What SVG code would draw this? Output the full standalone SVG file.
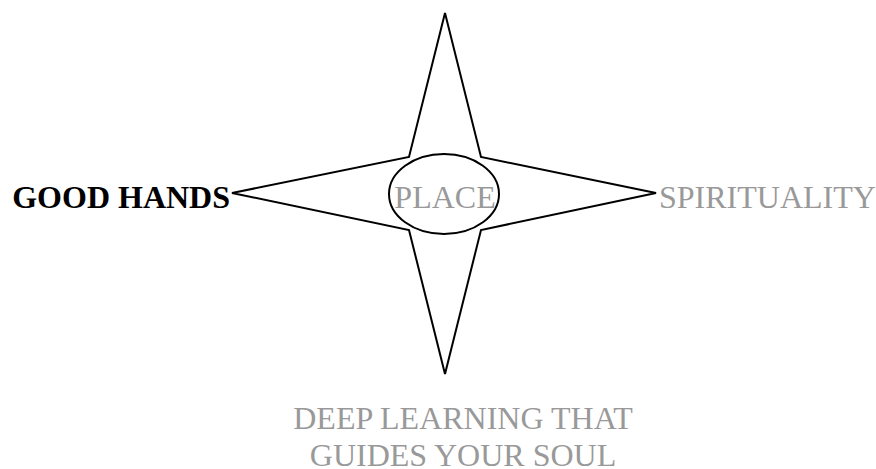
<svg xmlns="http://www.w3.org/2000/svg" width="876" height="469" viewBox="0 0 876 469">
<style>
.ln{fill:#fff;stroke:#000;stroke-width:2}
.t{font-family:"Liberation Serif","Times New Roman",serif;font-size:32px}
.g{fill:#999}
.b{fill:#000;font-weight:bold}
</style>
<rect width="876" height="469" fill="#fff"/>
<g id="connectors">
<polygon class="ln" points="445,13 481,157 656,193 481,230 445,374 409,230 232,193 409,157"/>
</g>
<g id="place">
<ellipse class="ln" cx="444" cy="194" rx="55" ry="40"/>
<text class="t g" x="445" y="208" text-anchor="middle">PLACE</text>
</g>
<g id="good-hands">
<text class="t b" x="230" y="208" text-anchor="end">GOOD HANDS</text>
</g>
<g id="spirituality">
<text class="t g" x="659" y="208">SPIRITUALITY</text>
</g>
<g id="deep-learning">
<text class="t g" text-anchor="middle"><tspan x="463" y="429">DEEP LEARNING THAT</tspan><tspan x="463" y="466">GUIDES YOUR SOUL</tspan></text>
</g>
</svg>
